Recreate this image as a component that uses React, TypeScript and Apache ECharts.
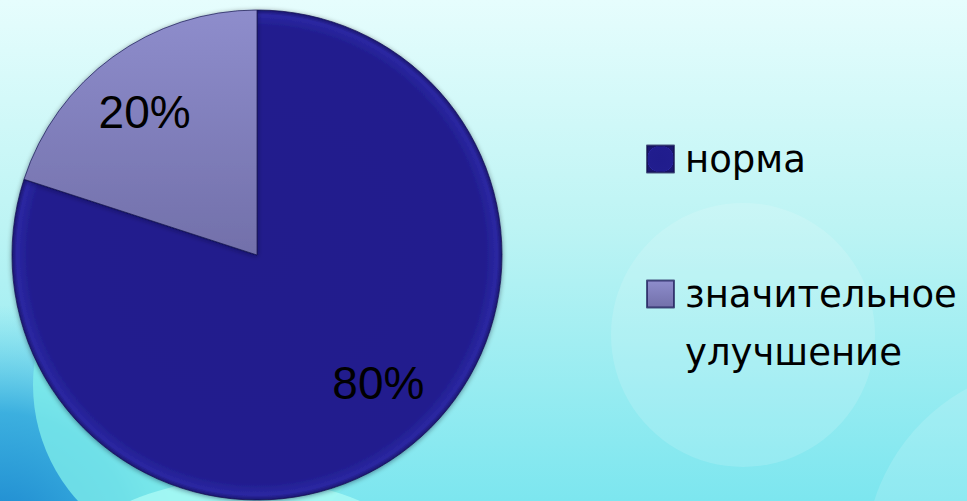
import React, { useEffect, useRef } from "react";
import * as echarts from "echarts";

const categories = ["норма", "значительное\nулучшение"];
const values = [80, 20];
const percentLabels = ["80%", "20%"];

export default function App() {
  const ref = useRef<HTMLDivElement>(null);
  useEffect(() => {
    document.body.style.margin = "0";
    const chart = echarts.init(ref.current!, null, { renderer: "svg" });
    const sliceColors = [
      {
        type: "radial", x: 0.5, y: 0.5, r: 0.5,
        colorStops: [
          { offset: 0, color: "#201C8C" },
          { offset: 0.93, color: "#211D8E" },
          { offset: 0.98, color: "#2B27A2" },
          { offset: 1, color: "#1A1670" },
        ],
      },
      {
        type: "linear", x: 0, y: 0, x2: 0, y2: 1,
        colorStops: [
          { offset: 0, color: "#8E8DCC" },
          { offset: 1, color: "#7270AA" },
        ],
      },
    ];
    const data = categories.map((name, i) => ({
      name,
      value: values[i],
      itemStyle: { color: sliceColors[i] },
    }));
    const labelData = categories.map((name, i) => ({
      name,
      value: values[i],
      label: { formatter: percentLabels[i] },
    }));
    const legendText = {
      fontFamily: "DejaVu Sans",
      fontSize: 37,
      color: "#000",
      lineHeight: 58,
      padding: [0, 0, 0, 6],
    };
    chart.setOption({
      animation: false,
      graphic: {
        elements: [
          {
            type: "rect", z: -10, silent: true,
            shape: { x: 0, y: 0, width: 967, height: 501 },
            style: {
              fill: {
                type: "linear", x: 0, y: 0, x2: 0, y2: 1,
                colorStops: [
                  { offset: 0, color: "#E6FDFD" },
                  { offset: 0.45, color: "#BDF4F4" },
                  { offset: 1, color: "#7CE6EF" },
                ],
              },
            },
          },
          {
            type: "circle", z: -9, silent: true,
            shape: { cx: 0, cy: 545, r: 240 },
            style: {
              fill: {
                type: "radial", x: 0.5, y: 0.5, r: 0.5,
                colorStops: [
                  { offset: 0, color: "rgba(25,130,205,1)" },
                  { offset: 0.55, color: "rgba(45,165,220,0.85)" },
                  { offset: 1, color: "rgba(90,205,235,0)" },
                ],
              },
            },
          },
          {
            type: "circle", z: -8, silent: true,
            shape: { cx: 205, cy: 385, r: 172 },
            style: { fill: "rgba(130,240,235,0.75)" },
          },
          {
            type: "circle", z: -7, silent: true,
            shape: { cx: 245, cy: 777, r: 299 },
            style: { fill: "rgba(170,250,245,0.8)" },
          },
          {
            type: "circle", z: -8, silent: true,
            shape: { cx: 743, cy: 335, r: 132 },
            style: { fill: "rgba(255,255,255,0.14)" },
          },
          {
            type: "circle", z: -8, silent: true,
            shape: { cx: 1060, cy: 560, r: 195 },
            style: { fill: "rgba(255,255,255,0.14)" },
          },
        ],
      },
      legend: [
        {
          orient: "vertical",
          left: 646,
          top: 130,
          padding: 0,
          itemWidth: 27,
          itemHeight: 27,
          icon: "rect",
          data: [categories[0]],
          textStyle: legendText,
        },
        {
          orient: "vertical",
          left: 646,
          top: 207,
          padding: 0,
          itemWidth: 27,
          itemHeight: 27,
          icon: "rect",
          data: [categories[1]],
          formatter: (name: string) => "\n" + name,
          textStyle: legendText,
        },
      ],
      series: [
        {
          type: "pie",
          center: [257, 255],
          radius: [0, 245],
          startAngle: 90,
          clockwise: true,
          label: { show: false },
          labelLine: { show: false },
          itemStyle: {
            borderColor: "rgba(20,18,80,0.7)",
            borderWidth: 1,
            shadowBlur: 5,
            shadowColor: "rgba(0,0,40,0.45)",
            shadowOffsetY: 1,
          },
          emphasis: { disabled: true },
          data,
        },
        {
          type: "pie",
          center: [257, 255],
          radius: [0, 356],
          startAngle: 90,
          clockwise: true,
          silent: true,
          legendHoverLink: false,
          itemStyle: { color: "rgba(0,0,0,0)" },
          label: {
            show: true,
            position: "inside",
            fontFamily: "Liberation Sans",
            fontSize: 46,
            color: "#000",
          },
          labelLayout: (p: any) =>
            p.dataIndex === 0 ? { dx: 15, dy: -18 } : { dx: -6, dy: 3 },
          labelLine: { show: false },
          emphasis: { disabled: true },
          data: labelData,
        },
      ],
    });
    return () => chart.dispose();
  }, []);
  return (
    <div
      ref={ref}
      style={{ position: "absolute", left: 0, top: 0, width: 967, height: 501 }}
    />
  );
}
